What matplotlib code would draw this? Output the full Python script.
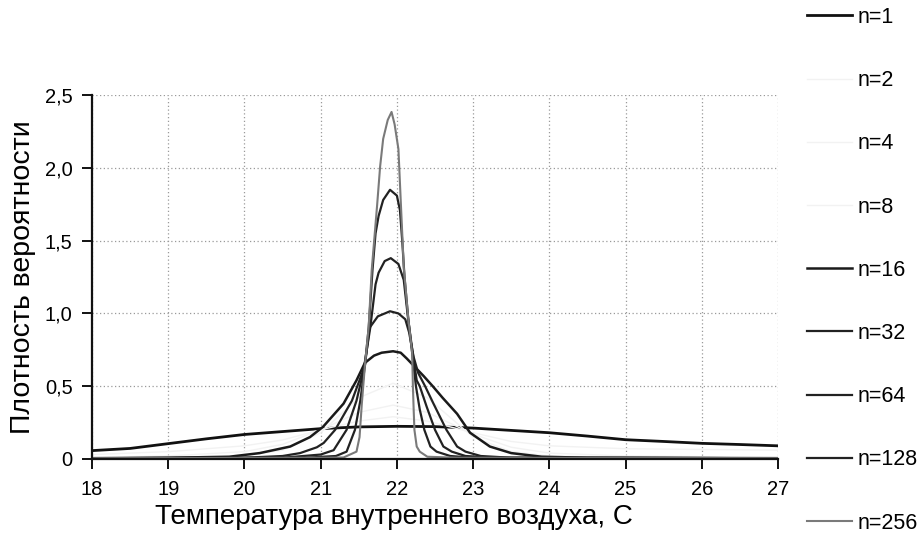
import matplotlib
matplotlib.use('Agg')
import matplotlib.pyplot as plt
from matplotlib.ticker import FuncFormatter

plt.rcParams['font.family'] = ['Liberation Sans', 'DejaVu Sans']

# values
labels = ['n=1', 'n=2', 'n=4', 'n=8', 'n=16', 'n=32', 'n=64', 'n=128', 'n=256']

x_n1 = [18.0, 18.5, 19.0, 19.5, 20.0, 20.5, 21.0, 21.5, 22.0, 22.5, 23.0, 23.5, 24.0, 24.5, 25.0, 25.5, 26.0, 26.5, 27.0]
y_n1 = [0.057, 0.072, 0.105, 0.138, 0.168, 0.188, 0.208, 0.22, 0.224, 0.222, 0.212, 0.196, 0.18, 0.157, 0.132, 0.12, 0.107, 0.099, 0.09]

x_n2 = [18.0, 19.0, 20.0, 20.5, 21.0, 21.5, 21.95, 22.4, 23.0, 23.5, 24.0, 25.0, 26.0, 27.0]
y_n2 = [0.03, 0.05, 0.09, 0.13, 0.2, 0.26, 0.29, 0.26, 0.18, 0.12, 0.09, 0.07, 0.065, 0.06]

x_n4 = [18.0, 19.0, 20.0, 20.5, 21.0, 21.5, 21.95, 22.4, 23.0, 23.5, 24.0, 25.0, 27.0]
y_n4 = [0.01, 0.02, 0.05, 0.1, 0.2, 0.32, 0.37, 0.32, 0.17, 0.08, 0.04, 0.02, 0.01]

x_n8 = [18.0, 19.5, 20.0, 20.5, 21.0, 21.5, 21.95, 22.4, 23.0, 23.5, 24.0, 25.0, 27.0]
y_n8 = [0.005, 0.01, 0.02, 0.06, 0.18, 0.42, 0.52, 0.42, 0.15, 0.05, 0.02, 0.01, 0.005]

x_n16 = [18.0, 19.0, 19.8, 20.2, 20.6, 20.86, 21.03, 21.3, 21.47, 21.58, 21.7, 21.8, 21.95, 22.05, 22.13,
         22.24, 22.35, 22.47, 22.6, 22.79, 22.96, 23.22, 23.5, 23.9, 24.5, 27.0]
y_n16 = [0.005, 0.008, 0.015, 0.04, 0.085, 0.15, 0.22, 0.38, 0.54, 0.66, 0.71, 0.73, 0.74, 0.73, 0.69,
         0.63, 0.57, 0.5, 0.42, 0.31, 0.18, 0.085, 0.04, 0.015, 0.008, 0.005]

x_n32 = [18.0, 20.0, 20.5, 20.73, 20.95, 21.04, 21.19, 21.41, 21.58, 21.64, 21.75, 21.91, 22.02, 22.11, 22.16,
         22.22, 22.28, 22.37, 22.48, 22.65, 22.79, 22.9, 23.1, 23.5, 27.0]
y_n32 = [0.005, 0.008, 0.02, 0.04, 0.08, 0.11, 0.2, 0.4, 0.64, 0.9, 0.98, 1.015, 1.0, 0.96, 0.87,
         0.7, 0.59, 0.5, 0.38, 0.2, 0.085, 0.05, 0.02, 0.008, 0.005]

x_n64 = [18.0, 20.5, 21.0, 21.17, 21.34, 21.47, 21.56, 21.65, 21.72, 21.76, 21.84, 21.92, 22.02, 22.09,
         22.15, 22.22, 22.26, 22.3, 22.39, 22.5, 22.61, 22.72, 22.9, 23.3, 27.0]
y_n64 = [0.005, 0.008, 0.03, 0.06, 0.2, 0.4, 0.6, 0.9, 1.2, 1.28, 1.36, 1.38, 1.34, 1.23,
         0.95, 0.68, 0.54, 0.5, 0.36, 0.2, 0.085, 0.05, 0.02, 0.008, 0.005]

x_n128 = [18.0, 20.8, 21.2, 21.34, 21.45, 21.52, 21.58, 21.63, 21.68, 21.72, 21.76, 21.82, 21.91, 22.0, 22.04,
          22.07, 22.1, 22.15, 22.2, 22.25, 22.3, 22.36, 22.44, 22.52, 22.7, 23.0, 27.0]
y_n128 = [0.005, 0.008, 0.02, 0.05, 0.2, 0.4, 0.64, 0.9, 1.3, 1.55, 1.67, 1.78, 1.85, 1.81, 1.71,
          1.5, 1.25, 0.96, 0.73, 0.5, 0.34, 0.2, 0.085, 0.05, 0.02, 0.008, 0.005]

x_n256 = [18.0, 21.0, 21.3, 21.47, 21.51, 21.54, 21.58, 21.63, 21.67, 21.74, 21.78, 21.82, 21.88, 21.93, 21.97,
          22.02, 22.05, 22.09, 22.15, 22.2, 22.21, 22.22, 22.23, 22.26, 22.3, 22.4, 22.8, 27.0]
y_n256 = [0.005, 0.008, 0.01, 0.05, 0.15, 0.38, 0.64, 0.91, 1.3, 1.74, 2.01, 2.2, 2.33, 2.385, 2.3,
          2.13, 1.78, 1.32, 0.96, 0.73, 0.5, 0.34, 0.2, 0.085, 0.05, 0.015, 0.008, 0.005]

x_ticks = [18, 19, 20, 21, 22, 23, 24, 25, 26, 27]
y_ticks = [0, 0.5, 1.0, 1.5, 2.0, 2.5]


def main():
    fig = plt.figure(figsize=(9.22, 5.38), dpi=100)
    ax = fig.add_axes([0.0998, 0.147, 0.744, 0.676])

    series = [(x_n1, y_n1), (x_n2, y_n2), (x_n4, y_n4), (x_n8, y_n8), (x_n16, y_n16),
              (x_n32, y_n32), (x_n64, y_n64), (x_n128, y_n128), (x_n256, y_n256)]
    colors = ['#111111', '#f2f2f2', '#f2f2f2', '#f2f2f2', '#1a1a1a', '#222222', '#222222', '#222222', '#7a7a7a']
    widths = [2.0, 1.0, 1.0, 1.0, 1.8, 1.6, 1.6, 1.6, 1.5]

    lines = []
    for (xs, ys), c, w, lab in zip(series, colors, widths, labels):
        ln, = ax.plot(xs, ys, color=c, lw=w, label=lab, solid_joinstyle='round')
        lines.append(ln)

    ax.set_xlim(18, 27)
    ax.set_ylim(0, 2.5)
    ax.set_xticks(x_ticks)
    ax.set_yticks(y_ticks)
    ax.yaxis.set_major_formatter(FuncFormatter(lambda v, p: '0' if v == 0 else ('%.1f' % v).replace('.', ',')))
    ax.tick_params(axis='both', labelsize=14.5, length=7, width=1.4, color='#111111')
    ax.tick_params(axis='x', pad=8)
    ax.tick_params(axis='y', pad=7)

    ax.grid(True, color='#9a9a9a', linestyle=(0, (1, 2)), linewidth=0.9)
    for s in ['top', 'right']:
        ax.spines[s].set_visible(False)
    for s in ['left', 'bottom']:
        ax.spines[s].set_linewidth(1.6)
        ax.spines[s].set_color('#111111')

    ax.set_xlabel('Температура внутреннего воздуха, С', fontsize=20, x=0.44, labelpad=4)
    ax.set_ylabel('Плотность вероятности', fontsize=20.5, labelpad=6)

    fig.legend(lines, labels, loc='upper left', bbox_to_anchor=(0.866, 1.003), frameon=False,
               fontsize=15.5, labelspacing=1.96, handlelength=2.1, handletextpad=0.25, borderaxespad=0)

    fig.savefig('out.png', dpi=100)


if __name__ == "__main__":
    main()
